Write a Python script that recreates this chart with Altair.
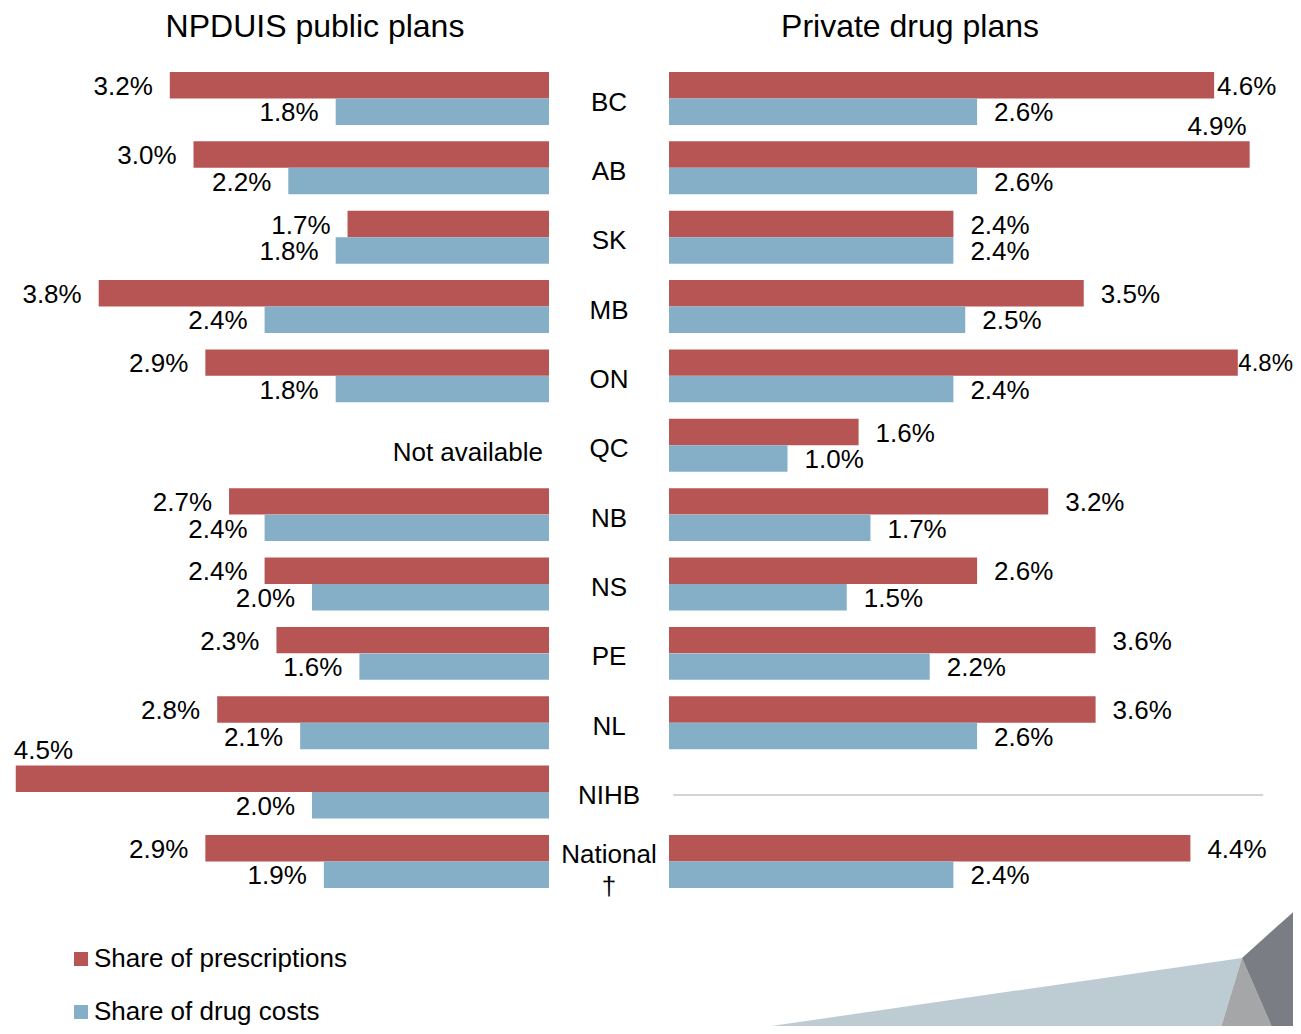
import altair as alt
import pandas as pd

# ---------------- data ----------------
provinces = ["BC", "AB", "SK", "MB", "ON", "QC", "NB", "NS", "PE", "NL", "NIHB", "National †"]
public_rx = [3.2, 3.0, 1.7, 3.8, 2.9, None, 2.7, 2.4, 2.3, 2.8, 4.5, 2.9]
public_cost = [1.8, 2.2, 1.8, 2.4, 1.8, None, 2.4, 2.0, 1.6, 2.1, 2.0, 1.9]
private_rx = [4.6, 4.9, 2.4, 3.5, 4.8, 1.6, 3.2, 2.6, 3.6, 3.6, None, 4.4]
private_cost = [2.6, 2.6, 2.4, 2.5, 2.4, 1.0, 1.7, 1.5, 2.2, 2.6, None, 2.4]
panel_titles = ["NPDUIS public plans", "Private drug plans"]
series_names = ["Share of prescriptions", "Share of drug costs"]
missing_text = "Not available"

# ---------------- styling ----------------
FONT = "Liberation Sans"
RED = "#b75454"
BLUE = "#85aec7"

rows = []
for i, p in enumerate(provinces):
    for plan, rx, cost in (("public", public_rx[i], public_cost[i]),
                           ("private", private_rx[i], private_cost[i])):
        for k, (s, v) in enumerate(zip(series_names, (rx, cost))):
            rows.append({"row": i, "prov": p, "plan": plan, "series": s, "k": k, "value": v})
df = pd.DataFrame(rows)
cat_df = pd.DataFrame({"row": list(range(len(provinces))), "prov": provinces})

W, H = 1285, 1018
PX_X = 118.5      # pixels per 1 percentage point
PX_Y = 69.36      # pixels per row
HALF_GAP = 60.0 / PX_X
X0 = -(609 - 8) / PX_X
X1 = X0 + W / PX_X
Y0 = -(72 - 8) / PX_Y
Y1 = Y0 + H / PX_Y

xs = alt.Scale(domain=[X0, X1], nice=False, zero=False)
ys = alt.Scale(domain=[Y0, Y1], nice=False, zero=False, reverse=True)

BAR_H = 0.381

base = alt.Chart(df).transform_filter("isValid(datum.value)").transform_calculate(
    side="datum.plan == 'public' ? -1 : 1"
).transform_calculate(
    x0=f"datum.side * {HALF_GAP}",
    x1=f"datum.side * ({HALF_GAP} + datum.value)",
    yt=f"datum.row + datum.k * {BAR_H + 0.001}",
).transform_calculate(
    yb=f"datum.yt + {BAR_H}",
    ytxt="datum.yt + 0.215",
    yabove="datum.yt - 0.21",
    fits=f"datum.x1 + {(3.0 + 60.0) / PX_X} <= {X1}",
    label="format(datum.value, '.1f') + '%'",
).transform_calculate(
    xsq=f"datum.fits ? datum.x1 + {3.0 / PX_X} : datum.x1 + {0.5 / PX_X}",
    fs="datum.fits ? 26 : 24",
)

bars = base.mark_rect().encode(
    x=alt.X("x0:Q", scale=xs, axis=None),
    x2="x1:Q",
    y=alt.Y("yt:Q", scale=ys, axis=None),
    y2="yb:Q",
    color=alt.Color(
        "series:N",
        scale=alt.Scale(domain=series_names, range=[RED, BLUE]),
        legend=alt.Legend(
            orient="none", legendX=60, legendY=938, title=None,
            symbolType="square", symbolSize=196, symbolStrokeWidth=0,
            labelFont=FONT, labelFontSize=26, labelColor="black",
            rowPadding=27, labelOffset=0, padding=0, direction="vertical",
            labelLimit=0,
        ),
    ),
)

def lab(filter_expr, align, dx, xfield, yfield, size=None):
    enc = dict(
        x=alt.X(f"{xfield}:Q", scale=xs, axis=None),
        y=alt.Y(f"{yfield}:Q", scale=ys, axis=None),
        text="label:N",
    )
    if size:
        enc["size"] = alt.Size(f"{size}:Q", scale=None, legend=None)
    return base.transform_filter(filter_expr).mark_text(
        align=align, baseline="middle", dx=dx, font=FONT, fontSize=26, color="black"
    ).encode(**enc)

labels = [
    lab("datum.plan == 'public' && datum.value < 4.2", "right", -17, "x1", "ytxt"),
    lab("datum.plan == 'public' && datum.value >= 4.2", "left", -2, "x1", "yabove"),
    lab("datum.plan == 'private' && datum.value < 4.5", "left", 17, "x1", "ytxt"),
    lab("datum.plan == 'private' && datum.value >= 4.5 && datum.value < 4.85", "left", 0, "xsq", "ytxt", "fs"),
    lab("datum.plan == 'private' && datum.value >= 4.85", "right", -3, "x1", "yabove"),
]

missing = alt.Chart(df).transform_filter("!isValid(datum.value) && datum.k == 0")

not_avail = missing.transform_filter("datum.plan == 'public'").transform_calculate(
    tx=f"-{HALF_GAP}", ty="datum.row + 0.486", t=f"'{missing_text}'"
).mark_text(align="right", baseline="middle", dx=-6, font=FONT, fontSize=26, color="black").encode(
    x=alt.X("tx:Q", scale=xs, axis=None),
    y=alt.Y("ty:Q", scale=ys, axis=None),
    text="t:N",
)

empty_line = missing.transform_filter("datum.plan == 'private'").transform_calculate(
    lx=f"{HALF_GAP} + 0.035", lx2="5.52", ly="datum.row + 0.424"
).mark_rule(color="#d4d4d4", strokeWidth=2).encode(
    x=alt.X("lx:Q", scale=xs, axis=None),
    x2="lx2:Q",
    y=alt.Y("ly:Q", scale=ys, axis=None),
)

cats = alt.Chart(cat_df).transform_calculate(
    cx="0",
    cy="datum.row + 0.44 - (length(split(datum.prov, ' ')) - 1) * 0.144",
).mark_text(
    align="center", baseline="middle", font=FONT, fontSize=26, color="black",
    lineBreak=" ", lineHeight=32,
).encode(
    x=alt.X("cx:Q", scale=xs, axis=None),
    y=alt.Y("cy:Q", scale=ys, axis=None),
    text="prov:N",
)

titles = [
    alt.Chart(alt.Data(values=[{"t": t}])).mark_text(
        align="center", baseline="middle", font=FONT, fontSize=32, color="black"
    ).encode(x=alt.value(px), y=alt.value(19), text="t:N")
    for t, px in zip(panel_titles, [307, 902])
]

# decorative slide-template shapes (bottom right), plot-area pixel coords
deco_shapes = [
    ("#bdccd3", [[708, 1026], [1234, 950], [1211, 1026], [708, 1026]]),
    ("#a5a6a8", [[1234, 950], [1211, 1026], [1267, 1026], [1234, 950]]),
    ("#7a7d83", [[1234, 950], [1293, 897], [1293, 1026], [1267, 1026], [1234, 950]]),
]
deco_layers = [
    alt.Chart(alt.Data(values=[{"type": "Feature", "properties": {},
                                "geometry": {"type": "Polygon", "coordinates": [pts]}}])).mark_geoshape(
        fill=col, strokeWidth=0
    ).project(type="identity", scale=1, translate=[0, 0])
    for col, pts in deco_shapes
]

chart = alt.layer(
    *deco_layers, bars, *labels, not_avail, empty_line, cats, *titles
).properties(
    width=W, height=H, padding=0, autosize=alt.AutoSizeParams(type="none")
).configure(background="white").configure_view(stroke=None, strokeWidth=0)

chart.save("out.html", embed_options={"renderer": "svg", "actions": False})
